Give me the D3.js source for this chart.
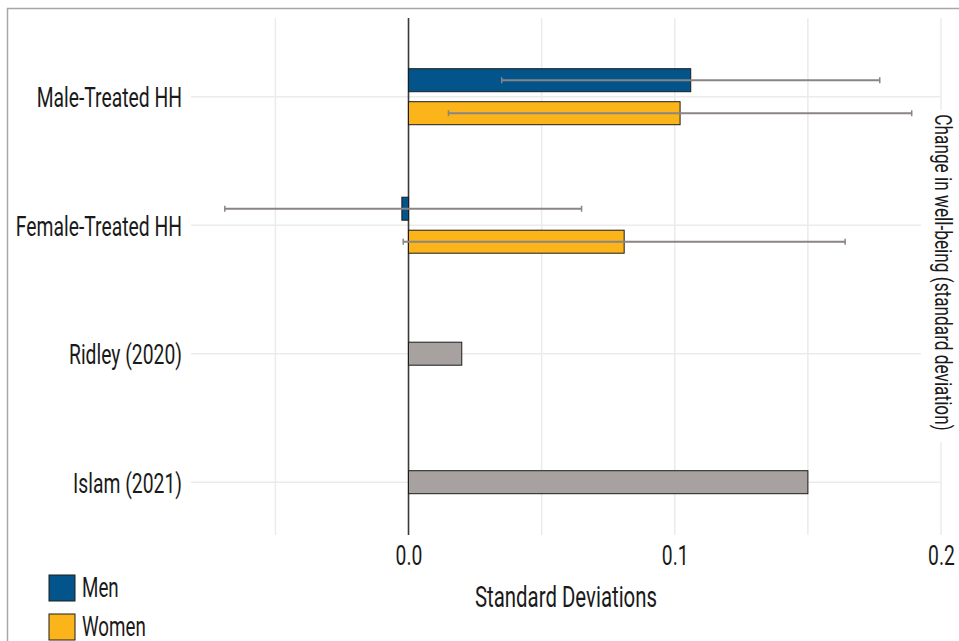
<!DOCTYPE html>
<html>
<head>
<meta charset="utf-8">
<script src="https://cdn.jsdelivr.net/npm/d3@7"></script>
<style>
  html, body { margin: 0; padding: 0; background: #fff; }
  svg { display: block; }
  text { font-family: Roboto, "Liberation Sans", sans-serif; fill: #1a1a1a; }
</style>
</head>
<body>
<svg id="chart" width="959" height="641"></svg>
<script>
// Estimates of the change in well-being, in standard deviations
const categories = ["Male-Treated HH", "Female-Treated HH", "Ridley (2020)", "Islam (2021)"];
const genders = ["Men", "Women"];

// Treated-household estimates with 95% intervals, one entry per household group
const menEstimate   = [0.106, -0.0025];
const menLower      = [0.035, -0.069];
const menUpper      = [0.177, 0.065];
const womenEstimate = [0.102, 0.081];
const womenLower    = [0.015, -0.002];
const womenUpper    = [0.189, 0.164];

// Published benchmark estimates
const studies       = ["Ridley (2020)", "Islam (2021)"];
const studyEstimate = [0.02, 0.15];

const xTicks = [0.0, 0.1, 0.2];
const xGrid  = [-0.05, 0.05, 0.1, 0.15, 0.2];

const colors = { Men: "#02548a", Women: "#fbb51a", study: "#a7a29f" };
const sx = 0.69; // horizontal squeeze for the condensed lettering

const svg = d3.select("#chart");

// outer frame
svg.append("rect")
  .attr("x", 7.5).attr("y", 8.5)
  .attr("width", 1000).attr("height", 700)
  .attr("fill", "none").attr("stroke", "#a6a6a6").attr("stroke-width", 1.5);

const panel = { left: 191, right: 941, top: 18, bottom: 535 };

const x = d3.scaleLinear().domain([-0.0817, 0.2]).range([panel.left, panel.right]);
const y = d3.scalePoint().domain(categories).range([96.7, 482.2]);
const dodge = d3.scaleBand().domain(genders).range([-28, 28]).paddingInner(0.303).paddingOuter(0);
const bw = dodge.bandwidth();

// gridlines
const grid = svg.append("g").attr("class", "grid");
grid.selectAll("line.h").data(categories).join("line")
  .attr("class", "h")
  .attr("x1", panel.left).attr("x2", panel.right)
  .attr("y1", d => y(d)).attr("y2", d => y(d))
  .attr("stroke", "#ebebeb").attr("stroke-width", 1.5);
grid.selectAll("line.v").data(xGrid).join("line")
  .attr("class", "v")
  .attr("x1", d => x(d)).attr("x2", d => x(d))
  .attr("y1", panel.top).attr("y2", panel.bottom)
  .attr("stroke", "#ebebeb").attr("stroke-width", 1.5);

// zero reference line
svg.append("line")
  .attr("x1", x(0)).attr("x2", x(0))
  .attr("y1", panel.top).attr("y2", panel.bottom)
  .attr("stroke", "#3a3a3a").attr("stroke-width", 1.6);

// grouped bars for the treated households
const treated = [];
categories.slice(0, 2).forEach((c, i) => {
  treated.push({ cat: c, g: "Men", v: menEstimate[i], lo: menLower[i], hi: menUpper[i] });
  treated.push({ cat: c, g: "Women", v: womenEstimate[i], lo: womenLower[i], hi: womenUpper[i] });
});

const barY = d => y(d.cat) + dodge(d.g);

svg.append("g").selectAll("rect").data(treated).join("rect")
  .attr("x", d => Math.min(x(0), x(d.v)))
  .attr("width", d => Math.abs(x(d.v) - x(0)))
  .attr("y", barY)
  .attr("height", bw)
  .attr("fill", d => colors[d.g])
  .attr("stroke", "#1c1c1c").attr("stroke-width", 1);

// benchmark study bars
svg.append("g").selectAll("rect").data(studies.map((s, i) => ({ cat: s, v: studyEstimate[i] }))).join("rect")
  .attr("x", d => Math.min(x(0), x(d.v)))
  .attr("width", d => Math.abs(x(d.v) - x(0)))
  .attr("y", d => y(d.cat) - bw / 2)
  .attr("height", bw)
  .attr("fill", colors.study)
  .attr("stroke", "#1c1c1c").attr("stroke-width", 1);

// confidence intervals
const eb = svg.append("g").attr("stroke", "#8a8582").attr("stroke-width", 2).attr("fill", "none");
const cap = 3;
treated.forEach(d => {
  const cy = barY(d) + bw / 2;
  eb.append("line").attr("x1", x(d.lo)).attr("x2", x(d.hi)).attr("y1", cy).attr("y2", cy);
  eb.append("line").attr("x1", x(d.lo)).attr("x2", x(d.lo)).attr("y1", cy - cap).attr("y2", cy + cap).attr("stroke-width", 1.5);
  eb.append("line").attr("x1", x(d.hi)).attr("x2", x(d.hi)).attr("y1", cy - cap).attr("y2", cy + cap).attr("stroke-width", 1.5);
});

// category axis
const yAxis = svg.append("g")
  .attr("transform", `translate(${panel.left},0)`)
  .call(d3.axisLeft(y).tickSize(0).tickPadding(9 / sx));
yAxis.select(".domain").remove();
yAxis.selectAll("text")
  .attr("font-size", 28)
  .attr("dy", "0.36em")
  .attr("transform", `scale(${sx},1)`)
  .style("font-family", null);

// value axis
const xAxis = svg.append("g")
  .attr("transform", `translate(0,${panel.bottom})`)
  .call(d3.axisBottom(x).tickValues(xTicks).tickFormat(d3.format(".1f")).tickSize(0).tickPadding(10));
xAxis.select(".domain").remove();
xAxis.selectAll("text")
  .attr("font-size", 28)
  .attr("transform", `scale(${sx},1)`)
  .style("font-family", null);

// axis titles
svg.append("text")
  .attr("text-anchor", "middle")
  .attr("font-size", 30)
  .attr("transform", `translate(${(panel.left + panel.right) / 2},607) scale(0.68,1)`)
  .text("Standard Deviations");

svg.append("rect")
  .attr("x", 921).attr("y", 110).attr("width", 40).attr("height", 332)
  .attr("fill", "#fff");
svg.append("text")
  .attr("text-anchor", "middle")
  .attr("font-size", 23)
  .attr("transform", `translate(935,272.5) rotate(90) scale(0.75,1)`)
  .text("Change in well-being (standard deviation)");

// legend
const legend = svg.append("g");
genders.forEach((g, i) => {
  const ly = 575 + i * 39;
  legend.append("rect")
    .attr("x", 49).attr("y", ly).attr("width", 26).attr("height", 26)
    .attr("fill", colors[g]).attr("stroke", "#1c1c1c").attr("stroke-width", 1);
  legend.append("text")
    .attr("font-size", 28)
    .attr("transform", `translate(82,${ly + 22}) scale(0.67,1)`)
    .text(g);
});
</script>
</body>
</html>
